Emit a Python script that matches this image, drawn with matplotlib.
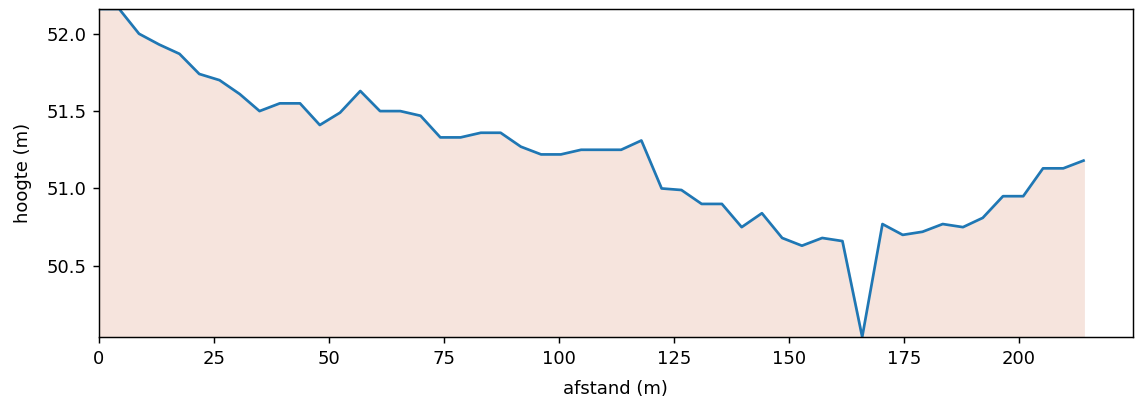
import matplotlib
matplotlib.use("Agg")
import matplotlib.pyplot as plt

# afstand langs het profiel (m) en maaiveldhoogte (m)
afstand = [0.0, 4.4, 8.7, 13.1, 17.5, 21.8, 26.2, 30.6, 34.9, 39.3,
           43.7, 48.0, 52.4, 56.8, 61.1, 65.5, 69.9, 74.2, 78.6, 83.0,
           87.3, 91.7, 96.1, 100.4, 104.8, 109.2, 113.5, 117.9, 122.3, 126.6,
           131.0, 135.4, 139.7, 144.1, 148.5, 152.8, 157.2, 161.6, 165.9, 170.3,
           174.7, 179.0, 183.4, 187.8, 192.1, 196.5, 200.9, 205.2, 209.6, 214.0]
hoogte = [52.16, 52.16, 52.00, 51.93, 51.87, 51.74, 51.70, 51.61, 51.50, 51.55,
          51.55, 51.41, 51.49, 51.63, 51.50, 51.50, 51.47, 51.33, 51.33, 51.36,
          51.36, 51.27, 51.22, 51.22, 51.25, 51.25, 51.25, 51.31, 51.00, 50.99,
          50.90, 50.90, 50.75, 50.84, 50.68, 50.63, 50.68, 50.66, 50.04, 50.77,
          50.70, 50.72, 50.77, 50.75, 50.81, 50.95, 50.95, 51.13, 51.13, 51.18]

fig = plt.figure(figsize=(1135 / 130, 403 / 130), dpi=130)
ax = fig.add_axes([0.0872, 0.1638, 0.9108, 0.8139])

ax.fill_between(afstand, hoogte, min(hoogte), color="#f6e4dd")
ax.plot(afstand, hoogte, color="tab:blue")

ax.set_xlim(left=0)
ax.set_ylim(min(hoogte), max(hoogte))
ax.set_yticks([50.5, 51.0, 51.5, 52.0])
ax.set_xlabel("afstand (m)", labelpad=7)
ax.set_ylabel("hoogte (m)", labelpad=8)

fig.savefig("out.png", dpi=130)
